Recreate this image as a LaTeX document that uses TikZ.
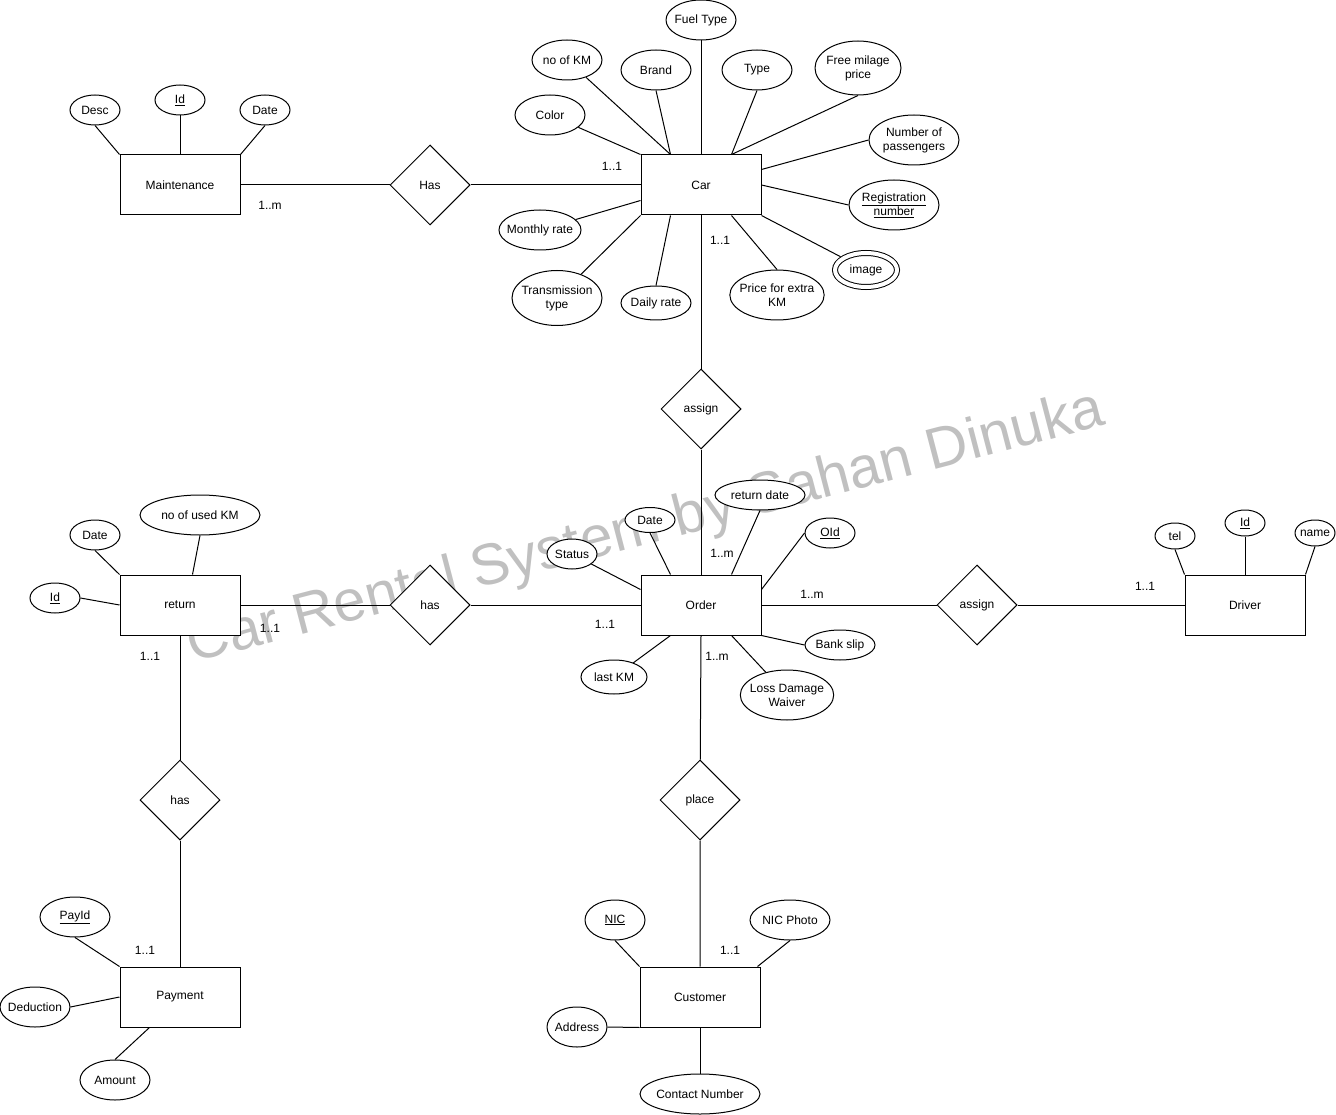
\documentclass[tikz,border=0pt]{standalone}
\usepackage{fontspec}
\setmainfont{Liberation Sans}
\usetikzlibrary{shapes.geometric}
\usetikzlibrary{calc}
\definecolor{wmgray}{RGB}{192,192,192}

\begin{document}
\begin{tikzpicture}[x=1pt,y=-1pt,line width=1pt,font=\fontsize{12}{14}\selectfont,
  entity/.style={draw,fill=white,minimum width=120pt,minimum height=60pt,inner sep=0pt},
  rel/.style={draw,fill=white,diamond,minimum width=80pt,minimum height=80pt,inner sep=0pt},
  attr/.style={draw,fill=white,ellipse,inner xsep=-4pt,inner ysep=0pt,align=center},
  sz/.style 2 args={minimum width=#1,minimum height=#2},
  card/.style={inner sep=0pt}]
\useasboundingbox (0,0) rectangle (1336,1115);
\node[text=wmgray,font=\fontsize{58}{60}\selectfont,rotate=14.6,anchor=base west,inner sep=0pt] (wmark) at (192,663) {Car Rental System by Sahan Dinuka};
% car
\node[entity] (car) at (701,185) {Car};
\node[attr,sz={70pt}{40pt}] (fuel) at (701,20) {Fuel Type};
\node[attr,sz={70pt}{40pt}] (nokm) at (567,60) {no of KM};
\node[attr,sz={70pt}{40pt}] (brand) at (656,70) {Brand};
\node[attr,sz={70pt}{40pt}] (type) at (757,70) {Type};
\node[attr,sz={86pt}{54pt}] (freemil) at (858,68) {Free milage\\price};
\node[attr,sz={70pt}{40pt}] (color) at (550,115) {Color};
\node[attr,sz={90pt}{50pt}] (npass) at (914,140) {Number of\\passengers};
\node[attr,sz={90pt}{50pt}] (regno) at (894,205) {\underline{Registration}\\\underline{number}};
\node[attr,sz={80pt}{40pt}] (monthly) at (540,230) {Monthly rate};
\node[attr,sz={62pt}{34pt},double,double distance=4pt,outer sep=3pt] (image) at (866,270) {image};
\node[attr,sz={90pt}{55pt}] (trans) at (557,298) {Transmission\\type};
\node[attr,sz={70pt}{34pt}] (daily) at (656,303) {Daily rate};
\node[attr,sz={90pt}{50pt}] (extra) at (777,295) {Price for extra\\KM};
\draw (fuel.south) -- (car.north);
\draw (nokm) -- ([xshift=30pt]car.north west);
\draw (brand.south) -- ([xshift=30pt]car.north west);
\draw (type.south) -- ([xshift=-30pt]car.north east);
\draw (freemil.south) -- ([xshift=-30pt]car.north east);
\draw (color) -- (car.north west);
\draw (npass.west) -- ([yshift=-15pt]car.north east);
\draw (regno.west) -- (car.east);
\draw (monthly) -- ([yshift=15pt]car.south west);
\draw (image) -- (car.south east);
\draw (trans) -- (car.south west);
\draw (daily.north) -- ([xshift=30pt]car.south west);
\draw (extra.north) -- ([xshift=-30pt]car.south east);
% maintenance
\node[entity] (maint) at (180,185) {Maintenance};
\node[attr,sz={50pt}{30pt}] (mdesc) at (95,110) {Desc};
\node[attr,sz={50pt}{30pt}] (mid) at (180,100) {\underline{Id}};
\node[attr,sz={50pt}{30pt}] (mdate) at (265,110) {Date};
\draw (mdesc.south) -- (maint.north west);
\draw (mid.south) -- (maint.north);
\draw (mdate.south) -- (maint.north east);
\node[rel] (has1) at (430,185) {Has};
\draw (maint) -- (has1) -- (car);
\node[card] (c1) at (270,205) {1..m};
\node[card] (c2) at (612,166) {1..1};
% order
\node[entity] (order) at (701,605) {Order};
\node[rel] (assign1) at (701,409) {assign};
\draw (car) -- (assign1) -- (order);
\node[card] (c3) at (720,240) {1..1};
\node[card] (c4) at (722,553) {1..m};
\node[attr,sz={90pt}{30pt}] (retdate) at (760,495) {return date};
\node[attr,sz={50pt}{25pt}] (odate) at (650,520) {Date};
\node[attr,sz={50pt}{30pt}] (status) at (572,554) {Status};
\node[attr,sz={50pt}{30pt}] (oid) at (830,533) {\underline{OId}};
\node[attr,sz={70pt}{30pt}] (bank) at (840,645) {Bank slip};
\node[attr,sz={90pt}{50pt}] (ldw) at (787,695) {Loss Damage\\Waiver};
\node[attr,sz={66pt}{34pt}] (lastkm) at (614,677) {last KM};
\draw (retdate.south) -- ([xshift=-30pt]order.north east);
\draw (odate.south) -- ([xshift=30pt]order.north west);
\draw (status) -- ([yshift=-15pt]order.north west);
\draw (oid.west) -- ([yshift=-15pt]order.north east);
\draw (bank.west) -- (order.south east);
\draw (ldw) -- ([xshift=-30pt]order.south east);
\draw (lastkm) -- ([xshift=30pt]order.south west);
% return
\node[entity] (ret) at (180,605) {return};
\node[rel] (has2) at (430,605) {has};
\draw (ret) -- (has2) -- (order);
\node[card] (c5) at (270,628) {1..1};
\node[card] (c6) at (605,624) {1..1};
\node[attr,sz={50pt}{30pt}] (rdate) at (95,535) {Date};
\node[attr,sz={120pt}{40pt}] (usedkm) at (200,515) {no of used KM};
\node[attr,sz={50pt}{30pt}] (rid) at (55,598) {\underline{Id}};
\draw (rdate.south) -- (ret.north west);
\draw (usedkm.south) -- ([xshift=73pt]ret.north west);
\draw (rid.east) -- (ret.west);
% driver
\node[entity] (driver) at (1245,605) {Driver};
\node[rel] (assign2) at (977,605) {assign};
\draw (order) -- (assign2) -- (driver);
\node[card] (c7) at (812,594) {1..m};
\node[card] (c8) at (1145,586) {1..1};
\node[attr,sz={40pt}{26pt}] (tel) at (1175,536) {tel};
\node[attr,sz={40pt}{26pt}] (did) at (1245,523) {\underline{Id}};
\node[attr,sz={40pt}{26pt}] (dname) at (1315,533) {name};
\draw (tel.south) -- (driver.north west);
\draw (did.south) -- (driver.north);
\draw (dname.south) -- (driver.north east);
% payment
\node[rel] (has3) at (180,800) {has};
\node[entity] (pay) at (180,997) {Payment};
\draw (ret) -- (has3) -- (pay);
\node[card] (c9) at (150,656) {1..1};
\node[card] (c10) at (145,950) {1..1};
\node[attr,sz={70pt}{40pt}] (payid) at (75,917) {\underline{PayId}};
\node[attr,sz={70pt}{40pt}] (ded) at (35,1007) {Deduction};
\node[attr,sz={70pt}{40pt}] (amount) at (115,1080) {Amount};
\draw (payid.south) -- (pay.north west);
\draw (ded.east) -- (pay.west);
\draw (amount.north) -- ([xshift=30pt]pay.south west);
% customer
\node[rel] (place) at (700,800) {place};
\node[entity] (cust) at (700,997) {Customer};
\draw (order.south) -- (place) -- (cust);
\node[card] (c11) at (717,656) {1..m};
\node[card] (c12) at (730,950) {1..1};
\node[attr,sz={60pt}{40pt}] (nic) at (615,920) {\underline{NIC}};
\node[attr,sz={80pt}{40pt}] (nicph) at (790,920) {NIC Photo};
\node[attr,sz={60pt}{40pt}] (addr) at (577,1027) {Address};
\node[attr,sz={120pt}{40pt}] (contact) at (700,1094) {Contact Number};
\draw (nic.south) -- (cust.north west);
\draw (nicph.south) -- ([xshift=-3pt]cust.north east);
\draw (addr.east) -- (cust.south west);
\draw (contact.north) -- (cust.south);
\end{tikzpicture}
\end{document}
